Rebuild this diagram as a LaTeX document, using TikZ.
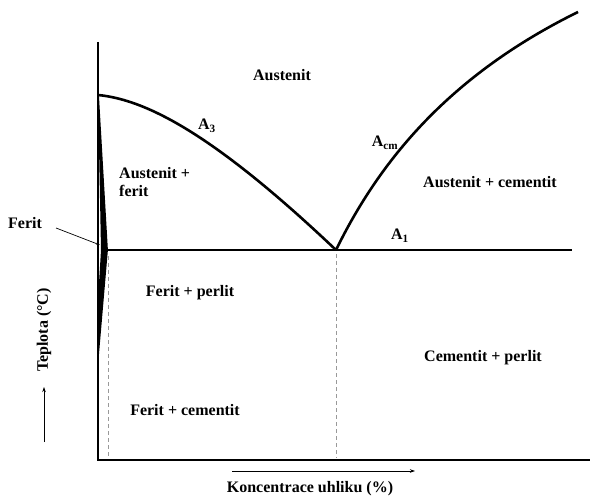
\documentclass[tikz,border=0pt]{standalone}
\usepackage{fontspec}
\setmainfont{Liberation Serif}
\usetikzlibrary{arrows.meta}
\begin{document}
\begin{tikzpicture}[x=1pt,y=-1pt,
  lbl/.style={font=\bfseries\fontsize{16}{18}\selectfont, inner sep=0pt},
  curve/.style={line width=2.6pt, line join=round},
  axis/.style={line width=2.2pt},
  guide/.style={line width=0.6pt, gray!80, dash pattern=on 4pt off 3pt},
  thin arrow/.style={line width=0.7pt, -{Stealth[length=5pt,width=3.5pt]}}]
\useasboundingbox (0,0) rectangle (592,497);
% axes
\coordinate (O) at (98,460);
\coordinate (Ytop) at (98,42);
\coordinate (Xend) at (590,460);
\draw[axis] (Ytop) -- (O) -- (Xend);
% key points
\coordinate (G) at (98,95);
\coordinate (P) at (107,250);
\coordinate (S) at (336,250);
\coordinate (E) at (578,12);
\coordinate (Q) at (98,355);
\coordinate (A1end) at (572,250);
% dashed guides
\coordinate (Pd) at (108,256);
\coordinate (Pb) at (108,458);
\coordinate (Sd) at (336,254);
\coordinate (Sb) at (336,458);
\draw[guide] (Pd) -- (Pb);
\draw[guide] (Sd) -- (Sb);
% ferrite lens
\fill (G) -- (P) -- (Q) -- (98,300) -- (101,250) -- cycle;
\draw[line width=1.8pt, line join=round] (G) -- (P) -- (Q);
% A3, Acm, A1
\draw[curve] (G) .. controls (150,100) and (220,140) .. (S);
\draw[curve] (S) .. controls (380,160) and (450,75) .. (E);
\draw[curve] (P) -- (A1end);
% labels
\node[lbl] at (282,75) {Austenit};
\node[lbl] at (207,126) {A\textsubscript{3}};
\node[lbl, align=left, anchor=west] at (119,182) {Austenit +\\ferit};
\node[lbl] (fer) at (25,223) {Ferit};
\coordinate (ferTip) at (100,245);
\coordinate (ferStart) at (56,228);
\draw[line width=0.7pt, -{Stealth[length=4pt,width=3pt]}] (ferStart) -- (ferTip);
\node[lbl] at (385,143) {A\textsubscript{cm}};
\node[lbl] at (490,182) {Austenit + cementit};
\node[lbl] at (400,236) {A\textsubscript{1}};
\node[lbl] at (190,293) {Ferit + perlit};
\node[lbl] at (483,358) {Cementit + perlit};
\node[lbl] at (185,410) {Ferit + cementit};
\node[lbl, rotate=90] at (44,330) {Teplota (°C)};
\coordinate (ya) at (44,442);
\coordinate (yb) at (44,387);
\draw[thin arrow] (ya) -- (yb);
\coordinate (xa) at (232,471);
\coordinate (xb) at (415,471);
\draw[thin arrow] (xa) -- (xb);
\node[lbl] at (310,489) {Koncentrace uhliku (\%)};
\end{tikzpicture}
\end{document}
